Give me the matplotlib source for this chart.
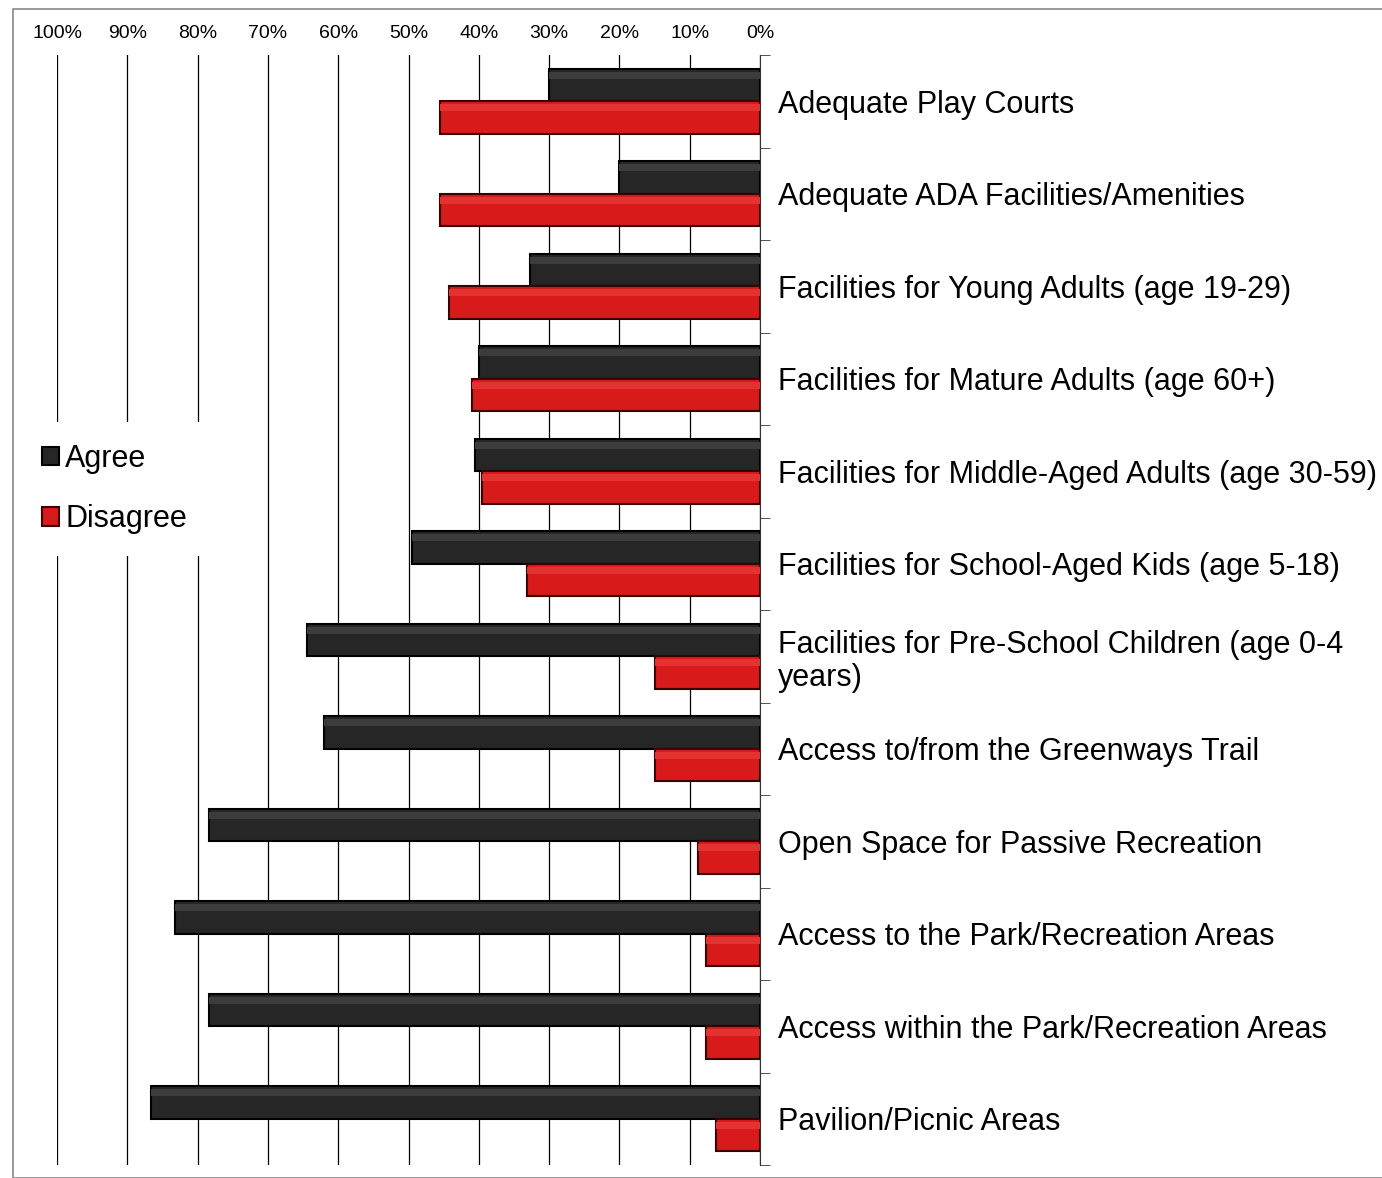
import matplotlib as mpl
mpl.use('Agg')
import matplotlib.pyplot as plt
import numpy as np
from matplotlib.patches import Rectangle

plt.rcParams['font.family'] = ['Liberation Sans', 'DejaVu Sans']

# categories top to bottom, values in percent
categories = ["Adequate Play Courts",
              "Adequate ADA Facilities/Amenities",
              "Facilities for Young Adults (age 19-29)",
              "Facilities for Mature Adults (age 60+)",
              "Facilities for Middle-Aged Adults (age 30-59)",
              "Facilities for School-Aged Kids (age 5-18)",
              "Facilities for Pre-School Children (age 0-4\nyears)",
              "Access to/from the Greenways Trail",
              "Open Space for Passive Recreation",
              "Access to the Park/Recreation Areas",
              "Access within the Park/Recreation Areas",
              "Pavilion/Picnic Areas"]
agree = [30, 20, 32.7, 40, 40.5, 49.5, 64.5, 62, 78.4, 83.2, 78.4, 86.6]
disagree = [45.5, 45.5, 44.3, 41, 39.5, 33.2, 15, 15, 8.8, 7.7, 7.7, 6.3]
tick_vals = list(range(100, -1, -10))
tick_labels = ["%d%%" % v for v in tick_vals]

fig = plt.figure(figsize=(13.82, 11.78), dpi=100)
ax = fig.add_axes([57/1382, 1 - 1165/1178, (760-57)/1382, (1165-55)/1178])

# thin frame around the page
fig.patches.append(Rectangle((13/1382, 0.0), 1.2, 1 - 9/1178, transform=fig.transFigure,
                             fill=False, edgecolor='#888888', linewidth=1.2))

y = np.arange(len(categories))
h = 0.35
b1 = ax.barh(y - h/2, agree, height=h, color='#262626', edgecolor='#000000', linewidth=1.5, zorder=3, label='Agree')
b2 = ax.barh(y + h/2, disagree, height=h, color='#d81a1a', edgecolor='#3a0000', linewidth=1.5, zorder=3, label='Disagree')
# soft bevel highlight near the top of each bar
ax.barh(y - h/2 - h*0.30, agree, height=h*0.22, color='#3c3c3c', linewidth=0, zorder=4)
ax.barh(y + h/2 - h*0.30, disagree, height=h*0.22, color='#e23232', linewidth=0, zorder=4)

ax.set_xlim(100, 0)
ax.set_ylim(len(categories) - 0.5, -0.5)
ax.set_xticks(tick_vals)
ax.set_xticklabels(tick_labels, fontsize=14)
ax.xaxis.tick_top()
ax.tick_params(axis='x', length=0, pad=9)
ax.grid(axis='x', color='#000000', linewidth=0.9, zorder=0)

ax.yaxis.tick_right()
ax.set_yticks(y)
ax.set_yticklabels(categories, fontsize=22, ha='left', linespacing=1.15)
ax.tick_params(axis='y', which='major', length=0, pad=13)
ax.set_yticks(np.arange(-0.5, len(categories), 1), minor=True)
ax.tick_params(axis='y', which='minor', length=7, direction='out', color='#333333')

for s in ['top', 'left', 'bottom']:
    ax.spines[s].set_visible(False)
ax.spines['right'].set_color('#333333')

leg = ax.legend(handles=[b1, b2], loc='center left', bbox_to_anchor=(-0.073, 0.609),
                frameon=True, fontsize=22, handlelength=0.55, handleheight=0.55,
                handletextpad=0.2, labelspacing=1.0, borderpad=0.7)
leg.get_frame().set_edgecolor('none')
leg.get_frame().set_facecolor('white')
leg.get_frame().set_alpha(1)
leg.set_zorder(10)

fig.savefig('out.png', dpi=100)
